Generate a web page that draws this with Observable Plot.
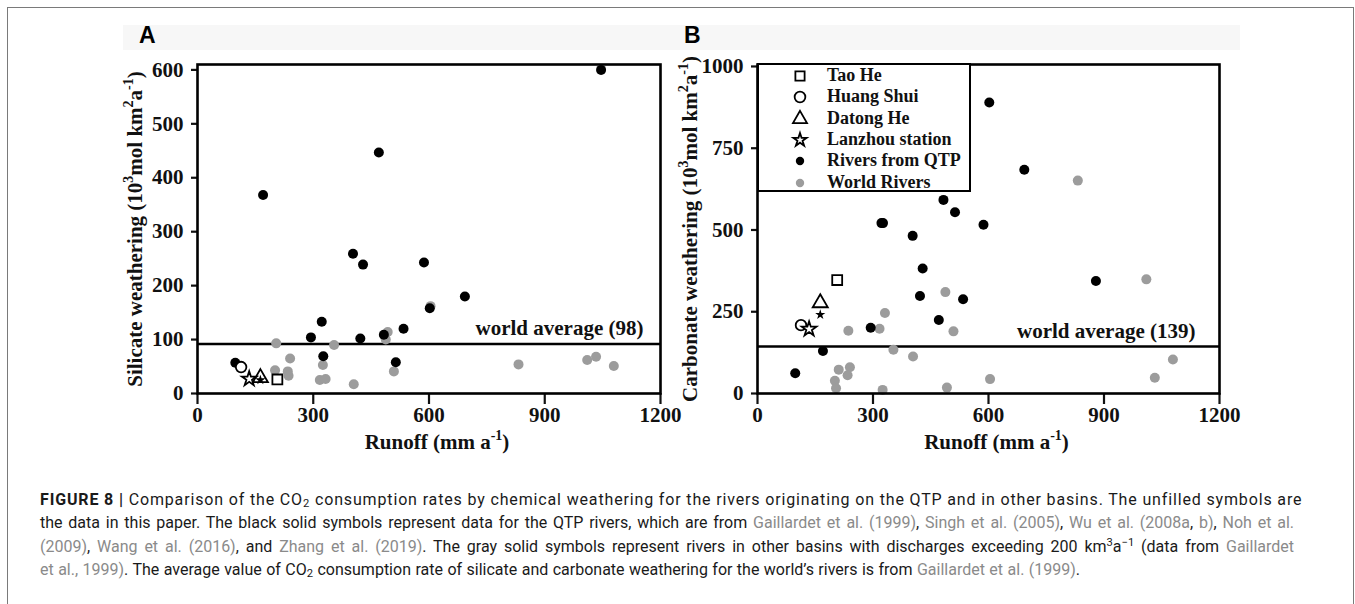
<!DOCTYPE html>
<html>
<head>
<meta charset="utf-8">
<script src="https://cdn.jsdelivr.net/npm/d3@7"></script>
<script src="https://cdn.jsdelivr.net/npm/@observablehq/plot@0.6"></script>
<style>
  html, body { margin: 0; padding: 0; background: #fff; }
  #fig { position: relative; width: 1355px; height: 604px; overflow: hidden; background: #fff; }
  #frameBox { position: absolute; left: 7px; top: 7px; width: 1345px; height: 640px; border: 1.5px solid #7a7a7a; }
  #band { position: absolute; left: 123px; top: 25px; width: 1117px; height: 25px; background: #f7f7f7; }
  .panelLetter { position: absolute; top: 22px; font-family: "Liberation Sans", Arial, sans-serif; font-weight: bold; font-size: 23px; }
  #legend { position: absolute; left: 757px; top: 63px; width: 210px; height: 125px; border: 2.5px solid #000; background: #fff; font-family: "Liberation Serif", "Times New Roman", serif; font-weight: bold; font-size: 18px; }
  .lrow { position: absolute; left: 0; height: 21px; line-height: 21px; }
  .lrow svg { position: absolute; left: 30px; top: 0; }
  .lrow span { position: absolute; left: 68px; top: 0; white-space: nowrap; color: #111; }
  #caption { position: absolute; left: 40px; top: 488px; width: 1254px; font-family: Roboto, "Liberation Sans", sans-serif; font-size: 16px; color: #1a1a1a; }
  .cl { height: 23.3px; line-height: 23.3px; white-space: nowrap; text-align: justify; text-align-last: justify; }
  .cl.first { letter-spacing: 0.85px; }
  .cl.last { width: 1040px; }
  .ref { color: #8a8a8a; }
  .cl sub { font-size: 0.7em; vertical-align: -0.2em; line-height: 0; }
  .cl sup { font-size: 0.7em; vertical-align: 0.5em; line-height: 0; }
</style>
</head>
<body>
<div id="fig">
  <div id="frameBox"></div>
  <div id="band"></div>
  <div class="panelLetter" style="left:139px">A</div>
  <div class="panelLetter" style="left:684px">B</div>
  <div id="plotA"></div>
  <div id="plotB"></div>
  <div id="legend"></div>
  <div id="caption">
    <div class="cl first"><b>FIGURE 8 |</b> Comparison of the CO<sub>2</sub> consumption rates by chemical weathering for the rivers originating on the QTP and in other basins. The unfilled symbols are</div>
    <div class="cl">the data in this paper. The black solid symbols represent data for the QTP rivers, which are from <span class="ref">Gaillardet et al. (1999)</span>, <span class="ref">Singh et al. (2005)</span>, <span class="ref">Wu et al. (2008a</span>, <span class="ref">b)</span>, <span class="ref">Noh et al.</span></div>
    <div class="cl"><span class="ref">(2009)</span>, <span class="ref">Wang et al. (2016)</span>, and <span class="ref">Zhang et al. (2019)</span>. The gray solid symbols represent rivers in other basins with discharges exceeding 200 km<sup>3</sup>a<sup>−1</sup> (data from <span class="ref">Gaillardet</span></div>
    <div class="cl last"><span class="ref">et al., 1999)</span>. The average value of CO<sub>2</sub> consumption rate of silicate and carbonate weathering for the world’s rivers is from <span class="ref">Gaillardet et al. (1999)</span>.</div>
  </div>
</div>
<script>
// ---------------- DATA ----------------
const runoffTicks = [0, 300, 600, 900, 1200];
const silicateTicks = [0, 100, 200, 300, 400, 500, 600];
const carbonateTicks = [0, 250, 500, 750, 1000];

// [runoff, silicate weathering] — rivers from QTP
const silicateQTP = [[98,57],[170,368],[470,447],[1046,600],[403,259],[429,239],[587,243],[693,180],[602,158],[322,133],[294,104],[422,102],[483,109],[534,120],[326,69],[514,58]];
// [runoff, silicate weathering] — world rivers
const silicateWorld = [[204,93],[240,65],[354,90],[201,43],[234,41],[236,33],[325,53],[317,25],[332,27],[405,17],[493,114],[488,100],[509,41],[604,162],[832,54],[1010,62],[1033,68],[1079,51]];
// [runoff, carbonate weathering] — rivers from QTP
const carbonateQTP = [[602,890],[693,684],[483,592],[513,554],[322,521],[326,521],[587,516],[403,482],[429,382],[422,298],[534,288],[471,225],[294,201],[879,344],[170,130],[98,62]];
// [runoff, carbonate weathering] — world rivers
const carbonateWorld = [[832,651],[1010,349],[488,310],[331,246],[317,198],[236,192],[509,190],[353,134],[404,113],[1079,104],[211,73],[240,80],[234,56],[201,39],[204,16],[325,11],[492,18],[604,44],[1032,48]];

// this paper's samples
const sampleNames = ["Tao He", "Huang Shui", "Datong He", "Lanzhou station"];
const sampleSymbols = ["square", "circle", "triangle", "star"];
const sampleRunoff = [207, 113, 163, 134];
const sampleSilicate = [26, 49, 29, 27];
const sampleCarbonate = [347, 209, 277, 197];
// small filled star (Lanzhou) [runoff, silicate, carbonate]
const filledStar = [163, 25, 241];

const worldAvgSilicateLabel = "world average (98)";
const worldAvgSilicateLine = 92;
const worldAvgCarbonateLabel = "world average (139)";
const worldAvgCarbonateLine = 144;

const legendNames = ["Tao He", "Huang Shui", "Datong He", "Lanzhou station", "Rivers from QTP", "World Rivers"];

// ---------------- HELPERS ----------------
const W = 1355, H = 470, FRAME_TOP = 64, FRAME_BOTTOM = 393;
const SERIF = "'Liberation Serif', 'Times New Roman', serif";
const symbolRadius = {square: 5.6, circle: 5.3, triangle: 5.6, star: 4.6};

function toObjs(arr) { return arr.map(([x, y]) => ({x, y})); }
function samples(values) {
  return sampleNames.map((n, i) => ({name: n, symbol: sampleSymbols[i], x: sampleRunoff[i], y: values[i]}));
}

function supify(svg, fs) {
  const ns = "http://www.w3.org/2000/svg";
  const shift = Math.round(fs * 0.42);
  svg.querySelectorAll("text, tspan").forEach(el => {
    if (el.children.length) return;
    const s = el.textContent;
    if (!s.includes("^{")) return;
    const parts = s.split(/\^\{([^}]*)\}/);
    el.textContent = "";
    let raised = false;
    parts.forEach((p, i) => {
      if (p === "") return;
      const ts = document.createElementNS(ns, "tspan");
      ts.textContent = p;
      if (i % 2 === 1) {
        ts.setAttribute("font-size", Math.round(fs * 0.65));
        if (!raised) { ts.setAttribute("dy", -shift); raised = true; }
      } else if (raised) {
        ts.setAttribute("dy", shift); raised = false;
      }
      el.appendChild(ts);
    });
  });
}

function panel({xLeft, xRight, yDomain, yTicks, world, qtp, sampleVals, star, yTitle, yTitleDx, avgLine, avgLabel, avgDx, avgDy}) {
  const sampleMarks = sampleSymbols.map(sym =>
    Plot.dot(samples(sampleVals).filter(d => d.symbol === sym), {x: "x", y: "y", symbol: sym, r: symbolRadius[sym], stroke: "black", strokeWidth: 1.8, fill: "white"})
  );
  const svg = Plot.plot({
    width: W, height: H,
    marginLeft: xLeft, marginRight: W - xRight, marginTop: FRAME_TOP, marginBottom: H - FRAME_BOTTOM,
    style: {background: "transparent", fontFamily: SERIF, fontWeight: "bold", fontSize: "20px", color: "#111", overflow: "visible"},
    x: {domain: [0, 1200]},
    y: {domain: yDomain},
    marks: [
      Plot.axisX({ticks: runoffTicks, tickSize: 11, tickPadding: 3, tickFormat: d => String(d), label: null, strokeWidth: 2.2, fontSize: 21, fontWeight: "bold"}),
      Plot.axisY({ticks: yTicks, tickSize: 6, tickPadding: 8, tickFormat: d => String(d), label: null, strokeWidth: 2.2, fontSize: 21, fontWeight: "bold"}),
      Plot.ruleY([avgLine], {stroke: "black", strokeWidth: 2.5}),
      Plot.text([{v: avgLine, t: avgLabel}], {y: "v", text: "t", frameAnchor: "right", textAnchor: "end", dx: avgDx, dy: avgDy, fontSize: 21, fontWeight: "bold", fill: "#111"}),
      Plot.dot(toObjs(world), {x: "x", y: "y", r: 5, fill: "#9c9c9c"}),
      Plot.dot(toObjs(qtp), {x: "x", y: "y", r: 5, fill: "black"}),
      ...sampleMarks,
      Plot.dot([{x: star[0], y: star[1]}], {x: "x", y: "y", symbol: "star", r: 3.2, fill: "black"}),
      Plot.text([yTitle], {frameAnchor: "left", textAnchor: "middle", rotate: -90, dx: yTitleDx, fontSize: 21, fontWeight: "bold", fill: "#111"}),
      Plot.text(["Runoff (mm a^{-1})"], {frameAnchor: "bottom", textAnchor: "middle", dy: 55, dx: 8, fontSize: 21, fontWeight: "bold", fill: "#111"}),
      Plot.frame({stroke: "black", strokeWidth: 2.6})
    ]
  });
  svg.setAttribute("style", (svg.getAttribute("style") || "") + ";position:absolute;left:0;top:0;");
  supify(svg, 21);
  return svg;
}

document.getElementById("plotA").appendChild(panel({
  xLeft: 197, xRight: 660, yDomain: [0, 610], yTicks: silicateTicks,
  world: silicateWorld, qtp: silicateQTP, sampleVals: sampleSilicate,
  star: [filledStar[0], filledStar[1]],
  yTitle: "Silicate weathering (10^{3}mol km^{2}a^{-1})", yTitleDx: -62,
  avgLine: worldAvgSilicateLine, avgLabel: worldAvgSilicateLabel, avgDx: -17, avgDy: -16
}));
document.getElementById("plotB").appendChild(panel({
  xLeft: 757, xRight: 1219, yDomain: [0, 1006], yTicks: carbonateTicks,
  world: carbonateWorld, qtp: carbonateQTP, sampleVals: sampleCarbonate,
  star: [filledStar[0], filledStar[2]],
  yTitle: "Carbonate weathering (10^{3}mol km^{2}a^{-1})", yTitleDx: -67,
  avgLine: worldAvgCarbonateLine, avgLabel: worldAvgCarbonateLabel, avgDx: -24, avgDy: -15
}));

// ---------------- LEGEND ----------------
const legend = document.getElementById("legend");
const legendSym = [
  {type: d3.symbolSquare, size: 85, fill: "white", stroke: "black"},
  {type: d3.symbolCircle, size: 90, fill: "white", stroke: "black"},
  {type: d3.symbolTriangle, size: 85, fill: "white", stroke: "black"},
  {type: d3.symbolStar, size: 55, fill: "white", stroke: "black"},
  {type: d3.symbolCircle, size: 55, fill: "black", stroke: "none"},
  {type: d3.symbolCircle, size: 55, fill: "#9c9c9c", stroke: "none"}
];
legendNames.forEach((name, i) => {
  const row = document.createElement("div");
  row.className = "lrow";
  row.style.top = (0 + i * 21.3) + "px";
  const s = d3.create("svg").attr("width", 22).attr("height", 21);
  s.append("path").attr("transform", "translate(11,11)")
    .attr("d", d3.symbol(legendSym[i].type, legendSym[i].size)())
    .attr("fill", legendSym[i].fill).attr("stroke", legendSym[i].stroke).attr("stroke-width", 1.8);
  row.appendChild(s.node());
  const t = document.createElement("span");
  t.textContent = name;
  row.appendChild(t);
  legend.appendChild(row);
});
</script>
</body>
</html>
